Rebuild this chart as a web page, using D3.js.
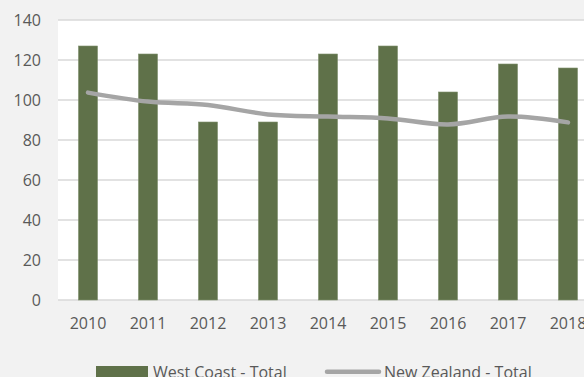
<!DOCTYPE html>
<html>
<head>
<meta charset="utf-8">
<script src="https://cdn.jsdelivr.net/npm/d3@7/dist/d3.min.js"></script>
<style>
  html, body { margin: 0; padding: 0; background: #f2f2f2; overflow: hidden; }
  svg { display: block; }
  text { font-family: "Open Sans", "Noto Sans", sans-serif; fill: #595959; }
</style>
</head>
<body>
<svg id="chart" width="584" height="377"></svg>
<script>
// Yearly totals: West Coast (bars) against New Zealand (line)
const years = ["2010", "2011", "2012", "2013", "2014", "2015", "2016", "2017", "2018"];
const westCoast = [127, 123, 89, 89, 123, 127, 104, 118, 116];
const newZealand = [103.7, 99.2, 97.5, 92.8, 91.7, 90.8, 87.8, 91.7, 88.8];
const yTicks = [0, 20, 40, 60, 80, 100, 120, 140];
const seriesNames = ["West Coast - Total", "New Zealand - Total"];

const barColor = "#5f7149";
const lineColor = "#a5a5a5";
const gridColor = "#d9d9d9";

const svg = d3.select("#chart");
const plot = { left: 58, top: 20, right: 598, bottom: 300 };

const x = d3.scaleBand()
  .domain(years)
  .range([plot.left, plot.right])
  .paddingInner(0.683)
  .paddingOuter(0.683 / 2);

const y = d3.scaleLinear()
  .domain([0, 140])
  .range([plot.bottom, plot.top]);

// plot area
svg.append("rect")
  .attr("x", plot.left).attr("y", plot.top)
  .attr("width", plot.right - plot.left).attr("height", plot.bottom - plot.top)
  .attr("fill", "#ffffff");

// horizontal gridlines
svg.append("g")
  .selectAll("line")
  .data(yTicks)
  .join("line")
  .attr("x1", plot.left).attr("x2", plot.right)
  .attr("y1", d => y(d)).attr("y2", d => y(d))
  .attr("stroke", gridColor)
  .attr("stroke-width", 1.5);

// y axis labels
const yAxis = d3.axisLeft(y).tickValues(yTicks).tickSize(0).tickPadding(17);
svg.append("g")
  .attr("transform", `translate(${plot.left},0)`)
  .call(yAxis)
  .call(g => g.select(".domain").remove())
  .selectAll("text")
  .style("font-size", "16px")
  .attr("fill", "#595959")
  .attr("font-family", null);

// x axis labels
const xAxis = d3.axisBottom(x).tickSize(0).tickPadding(18);
svg.append("g")
  .attr("transform", `translate(0,${plot.bottom})`)
  .call(xAxis)
  .call(g => g.select(".domain").remove())
  .selectAll("text")
  .style("font-size", "16px")
  .attr("fill", "#595959")
  .attr("font-family", null);

// bars
svg.append("g")
  .selectAll("rect")
  .data(years.map((yr, i) => ({ yr, v: westCoast[i] })))
  .join("rect")
  .attr("x", d => x(d.yr))
  .attr("y", d => y(d.v))
  .attr("width", x.bandwidth())
  .attr("height", d => y(0) - y(d.v))
  .attr("fill", barColor)
  .attr("stroke", "#7f8f6c")
  .attr("stroke-width", 0.6);

// smoothed national line
const line = d3.line()
  .x((d, i) => x(years[i]) + x.bandwidth() / 2)
  .y(d => y(d))
  .curve(d3.curveCatmullRom.alpha(0));

svg.append("path")
  .datum(newZealand)
  .attr("d", line)
  .attr("fill", "none")
  .attr("stroke", lineColor)
  .attr("stroke-width", 4.5)
  .attr("stroke-linecap", "round")
  .attr("stroke-linejoin", "round");

// legend
const legend = svg.append("g");
legend.append("rect")
  .attr("x", 96).attr("y", 366)
  .attr("width", 52).attr("height", 14)
  .attr("fill", barColor);
legend.append("text")
  .attr("x", 153).attr("y", 378)
  .style("font-size", "16px")
  .text(seriesNames[0]);
legend.append("line")
  .attr("x1", 327).attr("x2", 379)
  .attr("y1", 371.7).attr("y2", 371.7)
  .attr("stroke", lineColor)
  .attr("stroke-width", 4.5)
  .attr("stroke-linecap", "round");
legend.append("text")
  .attr("x", 384).attr("y", 378)
  .style("font-size", "16px")
  .text(seriesNames[1]);
</script>
</body>
</html>
